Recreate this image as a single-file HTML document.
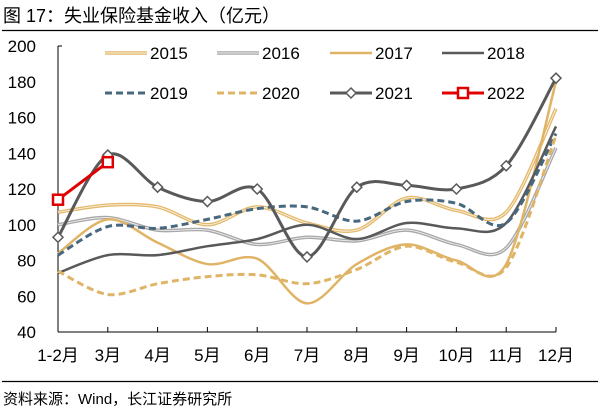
<!DOCTYPE html>
<html><head><meta charset="utf-8"><style>
body{margin:0;background:#fff;}
svg{display:block;font-family:"Liberation Sans","Noto Sans CJK SC",sans-serif;}
</style></head><body>
<svg id="c" width="601" height="413" viewBox="0 0 601 413">
<text x="3" y="22" font-size="18" fill="#000">图 17：失业保险基金收入（亿元）</text>
<line x1="2" y1="30.5" x2="598" y2="30.5" stroke="#000" stroke-width="1.2"/>
<line x1="2" y1="381.5" x2="598" y2="381.5" stroke="#000" stroke-width="1.2"/>
<text x="3" y="404" font-size="15" fill="#000">资料来源：Wind，长江证券研究所</text>
<g id="axes"></g><g id="series"></g><g id="legend"></g>
</svg>
<script>
const categories=["1-2月","3月","4月","5月","6月","7月","8月","9月","10月","11月","12月"];
const yTicks=[40,60,80,100,120,140,160,180,200];
const s2015=[107,111,110,100,110,101,97,115,108,107,165];
const s2016=[100,104,97,97,89,93,91,97,89,87,143];
const s2017=[84,103,90,78,81,56,78,89,80,78,180];
const s2018=[73,83,83,88,92,100,92,101,98,101,155];
const s2019=[83,99,98,103,109,110,102,113,112,101,151];
const s2020=[74,61,67,71,72,67,75,88,79,76,150];
const s2021=[93,139,121,113,120,82,121,122,120,133,182];
const s2022=[114,135];
const NS="http://www.w3.org/2000/svg";
const X0=58,X1=556,Y0=332,Y1=46;
function xs(i){return X0+i*(X1-X0)/(categories.length-1);}
function ys(v){return Y0-(v-40)*(Y0-Y1)/160;}
function mk(tag,attrs,parent){const e=document.createElementNS(NS,tag);for(const k in attrs)e.setAttribute(k,attrs[k]);parent.appendChild(e);return e;}
const axes=document.getElementById('axes');
let el=mk('line',{x1:X0,y1:Y1,x2:X0,y2:Y0,stroke:'#000','stroke-width':1},axes);


el=mk('line',{x1:X0,y1:Y0,x2:X1,y2:Y0,stroke:'#000','stroke-width':1},axes);


mk('line',{x1:X0,y1:Y1,x2:X0+4,y2:Y1,stroke:'#000'},axes);
yTicks.forEach(t=>{
  const e=mk('text',{x:X0-22,y:ys(t)+6,'font-size':17,'text-anchor':'end',fill:'#000'},axes);
  e.textContent=t;
  
  
});
categories.forEach((c,i)=>{
  mk('line',{x1:xs(i),y1:Y0,x2:xs(i),y2:Y0-5,stroke:'#000'},axes);
  const e=mk('text',{x:xs(i),y:Y0+29,'font-size':17,'text-anchor':'middle',fill:'#000'},axes);
  e.textContent=c;
  
  
});
function path(vals,smooth){
  const p=vals.map((v,i)=>[xs(i),ys(v)]);
  let d='M'+p[0][0]+','+p[0][1];
  if(!smooth){for(let i=1;i<p.length;i++)d+=' L'+p[i][0]+','+p[i][1];return d;}
  for(let i=0;i<p.length-1;i++){
    const a=p[Math.max(i-1,0)],b=p[i],c=p[i+1],e=p[Math.min(i+2,p.length-1)];
    const t=0.16;
    const c1=[b[0]+(c[0]-a[0])*t,b[1]+(c[1]-a[1])*t];
    const c2=[c[0]-(e[0]-b[0])*t,c[1]-(e[1]-b[1])*t];
    d+=` C${c1[0]},${c1[1]} ${c2[0]},${c2[1]} ${c[0]},${c[1]}`;
  }
  return d;
}
const series=[
 {name:'2015',vals:s2015,color:'#e3b96b',w:3.5,dbl:true},
 {name:'2016',vals:s2016,color:'#a8a8a8',w:3.5,dbl:true},
 {name:'2017',vals:s2017,color:'#e0b466',w:2.5},
 {name:'2018',vals:s2018,color:'#595959',w:2.5},
 {name:'2019',vals:s2019,color:'#47687f',w:3,dash:'7,4'},
 {name:'2020',vals:s2020,color:'#e0b466',w:3,dash:'7,4'},
 {name:'2021',vals:s2021,color:'#595959',w:3,marker:'diamond'},
 {name:'2022',vals:s2022,color:'#e00000',w:3,marker:'square',straight:true}
];
const sg=document.getElementById('series');
series.forEach(s=>{
  const g=mk('g',{},sg);
  
  
  const d=path(s.vals,!s.straight);
  const attrs={d:d,fill:'none',stroke:s.color,'stroke-width':s.w,'stroke-linejoin':'round'};
  if(s.dash)attrs['stroke-dasharray']=s.dash;
  mk('path',attrs,g);
  if(s.dbl)mk('path',{d:d,fill:'none',stroke:'#fff','stroke-width':0.9,'stroke-opacity':0.8},g);
  if(s.marker){
    s.vals.forEach((v,i)=>{
      const x=xs(i),y=ys(v);
      let m;
      if(s.marker==='diamond')m=mk('path',{d:`M${x},${y-5} L${x+5},${y} L${x},${y+5} L${x-5},${y} Z`,fill:'#fff',stroke:s.color,'stroke-width':1.5},g);
      else m=mk('rect',{x:x-5,y:y-5,width:10,height:10,fill:'#fff',stroke:s.color,'stroke-width':2.5},g);
      
      
    });
  }
});
const lg=document.getElementById('legend');
const lx=[105,217,330,442], ly=[53,93];
series.forEach((s,k)=>{
  const x=lx[k%4],y=ly[Math.floor(k/4)];
  const g=mk('g',{},lg);
  
  
  const a={x1:x,y1:y,x2:x+42,y2:y,stroke:s.color,'stroke-width':s.w};
  if(s.dash)a['stroke-dasharray']=s.dash;
  mk('line',a,g);
  if(s.dbl)mk('line',{x1:x,y1:y,x2:x+42,y2:y,stroke:'#fff','stroke-width':0.9,'stroke-opacity':0.8},g);
  const mx=x+21;
  if(s.marker==='diamond')mk('path',{d:`M${mx},${y-5} L${mx+5},${y} L${mx},${y+5} L${mx-5},${y} Z`,fill:'#fff',stroke:s.color,'stroke-width':1.5},g);
  if(s.marker==='square')mk('rect',{x:mx-5,y:y-5,width:10,height:10,fill:'#fff',stroke:s.color,'stroke-width':2.5},g);
  const t=mk('text',{x:x+45,y:y+6,'font-size':17,fill:'#000'},g);
  t.textContent=s.name;
});
</script>
</body></html>
